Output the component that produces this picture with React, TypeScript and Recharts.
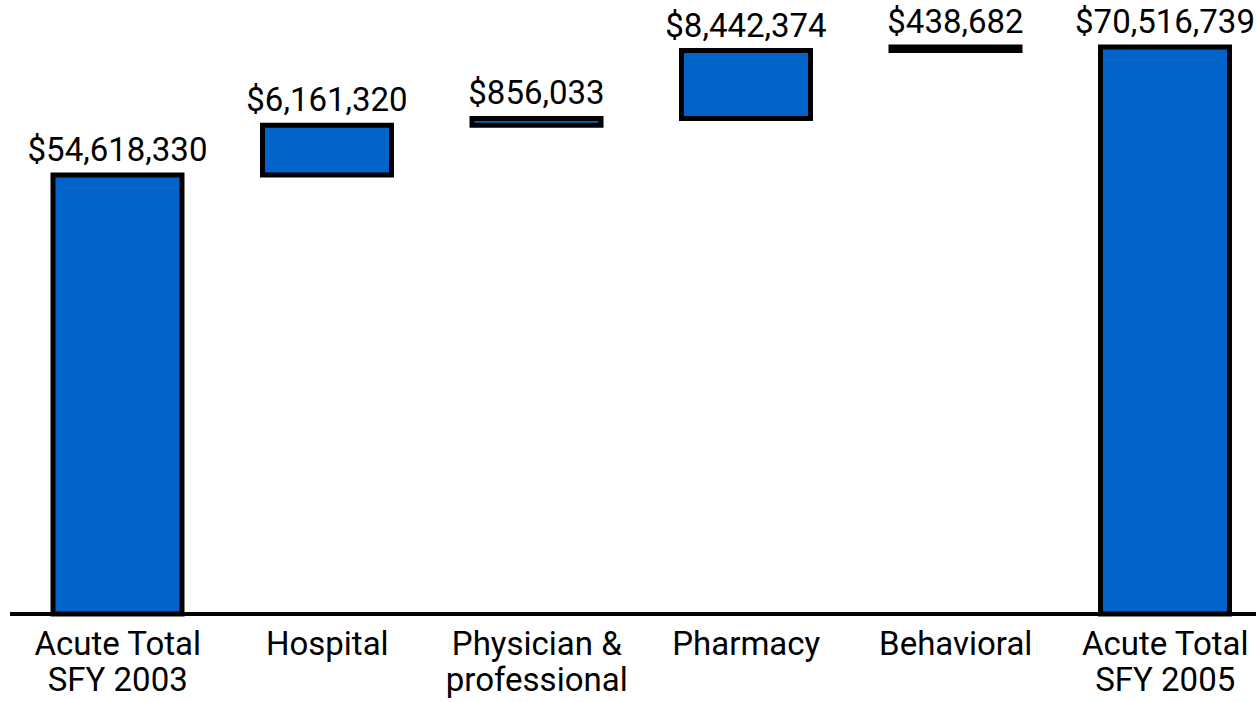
// Waterfall of acute care spending, SFY 2003 to SFY 2005.
import { Bar, BarChart, LabelList, XAxis, YAxis } from "recharts";

const CATEGORIES = [
  "Acute Total\nSFY 2003",
  "Hospital",
  "Physician &\nprofessional",
  "Pharmacy",
  "Behavioral",
  "Acute Total\nSFY 2005",
];
const START_TOTAL = 54618330;
const CHANGES = [6161320, 856033, 8442374, 438682];
const END_TOTAL = 70516739;

const BLUE = "#0064C8";
const FONT = "Roboto, 'Liberation Sans', sans-serif";

function buildRows() {
  const rows = [{ name: CATEGORIES[0], base: 0, delta: START_TOTAL }];
  let running = START_TOTAL;
  CHANGES.forEach((change, i) => {
    rows.push({ name: CATEGORIES[i + 1], base: running, delta: change });
    running += change;
  });
  rows.push({ name: CATEGORIES[CATEGORIES.length - 1], base: 0, delta: END_TOTAL });
  return rows;
}

const formatMoney = (v: unknown) => "$" + Number(v).toLocaleString("en-US");

function CategoryTick({ x, y, payload }: any) {
  const lines = String(payload.value).split("\n");
  return (
    <text x={x} y={y} textAnchor="middle" fill="#000" fontSize={33} fontFamily={FONT}>
      {lines.map((line, i) => (
        <tspan key={i} x={x} dy={i === 0 ? 33 : 36}>
          {line}
        </tspan>
      ))}
    </text>
  );
}

export default function App() {
  const data = buildRows();
  return (
    <div
      style={{
        position: "fixed",
        left: 0,
        top: 0,
        width: 1256,
        height: 702,
        overflow: "hidden",
        background: "#fff",
        fontFamily: FONT,
      }}
    >
      <BarChart width={1270} height={702} data={data} margin={{ top: 3, right: 0, bottom: 0, left: 10 }}>
        <XAxis
          dataKey="name"
          interval={0}
          height={88}
          padding={{ left: 3, right: 0 }}
          tickLine={false}
          axisLine={{ stroke: "#000", strokeWidth: 4 }}
          tick={<CategoryTick />}
        />
        <YAxis hide domain={[0, 76000000]} />
        <Bar dataKey="base" stackId="w" fill="transparent" barSize={129} isAnimationActive={false} />
        <Bar
          dataKey="delta"
          stackId="w"
          fill={BLUE}
          stroke="#000"
          strokeWidth={5}
          barSize={129}
          isAnimationActive={false}
        >
          <LabelList
            dataKey="delta"
            position="top"
            offset={14}
            formatter={formatMoney}
            fill="#000"
            fontSize={33}
            fontFamily={FONT}
          />
        </Bar>
      </BarChart>
    </div>
  );
}
